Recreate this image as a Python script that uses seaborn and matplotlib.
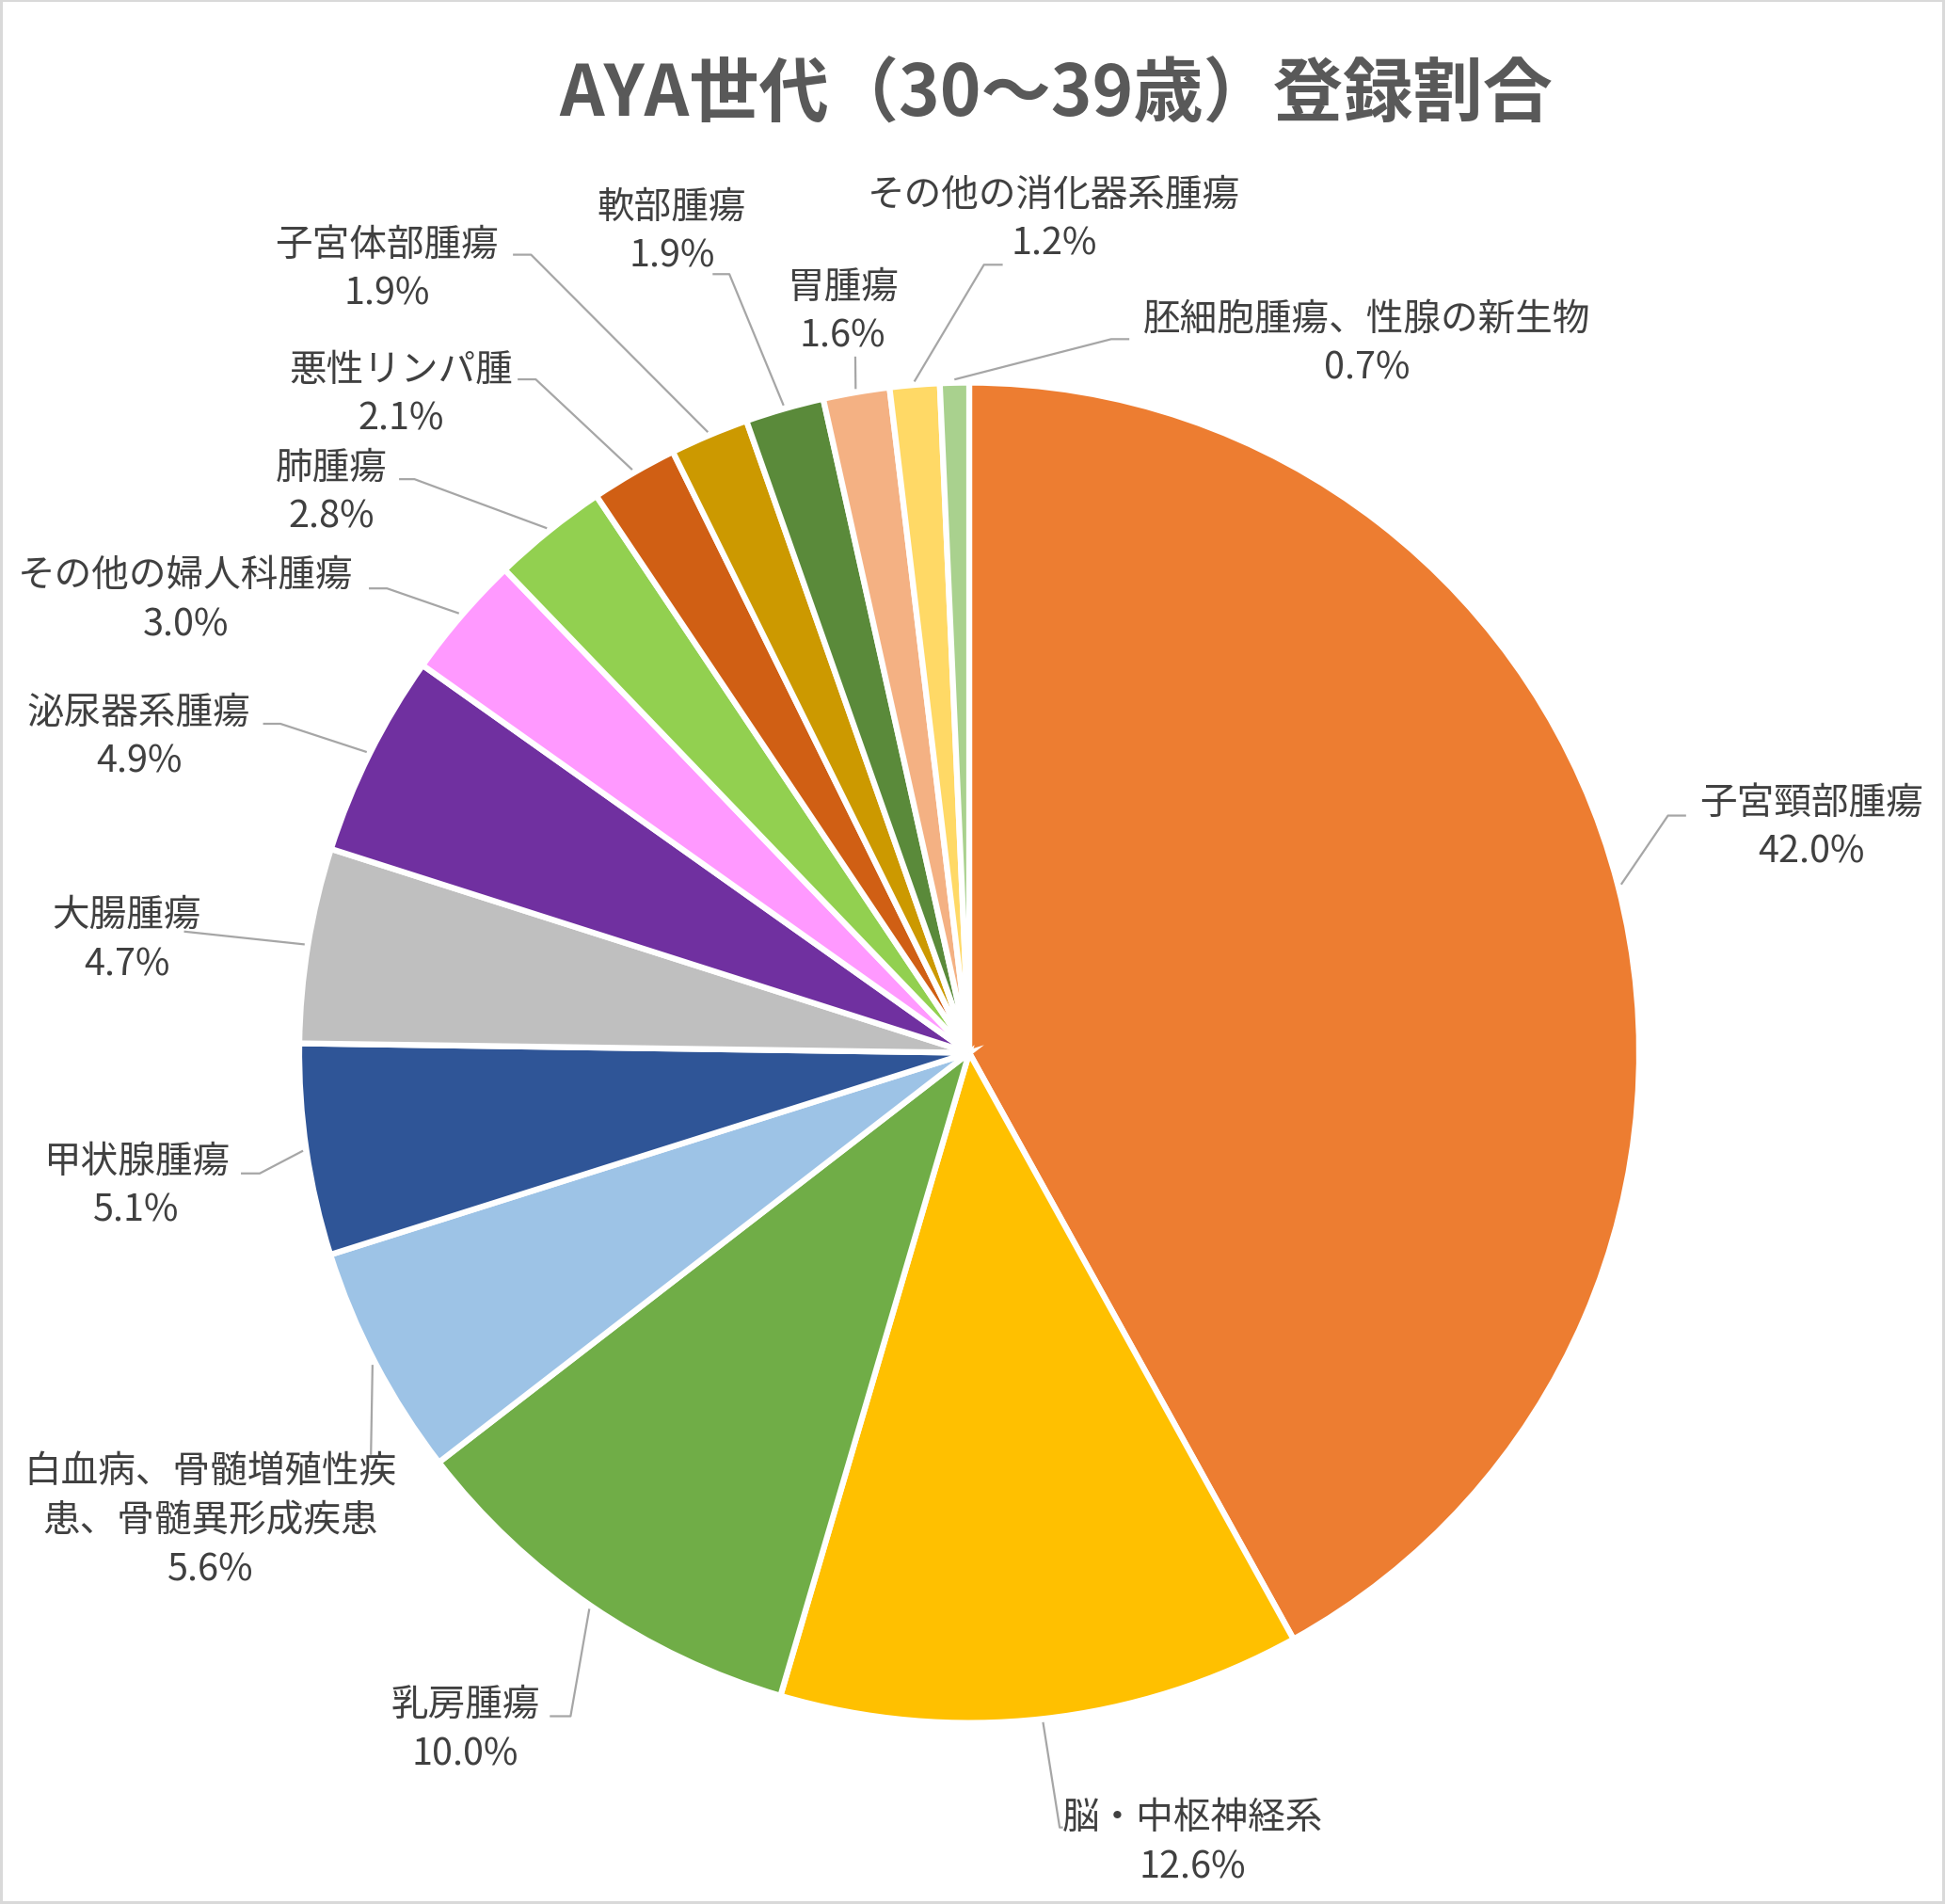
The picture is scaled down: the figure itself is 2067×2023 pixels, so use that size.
import numpy as np
import seaborn as sns
import matplotlib.pyplot as plt

sns.set_theme(style="white")
plt.rcParams['font.family'] = ['Noto Sans CJK JP', 'DejaVu Sans']

# 部位別の登録割合 (%)
categories = ['子宮頸部腫瘍', '脳・中枢神経系', '乳房腫瘍',
              '白血病、骨髄増殖性疾\n患、骨髄異形成疾患', '甲状腺腫瘍', '大腸腫瘍',
              '泌尿器系腫瘍', 'その他の婦人科腫瘍', '肺腫瘍', '悪性リンパ腫',
              '子宮体部腫瘍', '軟部腫瘍', '胃腫瘍', 'その他の消化器系腫瘍',
              '胚細胞腫瘍、性腺の新生物']
shares = [42.0, 12.6, 10.0, 5.6, 5.1, 4.7, 4.9, 3.0, 2.8, 2.1, 1.9, 1.9, 1.6, 1.2, 0.7]
colors = ['#ED7D31', '#FFC000', '#70AD47', '#9DC3E6', '#2F5597', '#BFBFBF',
          '#7030A0', '#FF99FF', '#92D050', '#D05F14', '#CC9900', '#5A8A3A',
          '#F4B183', '#FFD966', '#A9D18E']

# ラベル位置 (円の半径=1 の座標)
label_xy = [(1.257, 0.337), (0.333, -1.178), (-0.752, -1.009), (-1.133, -0.698),
            (-1.243, -0.198), (-1.257, 0.169), (-1.239, 0.472), (-1.169, 0.676),
            (-0.952, 0.837), (-0.848, 0.983), (-0.869, 1.170), (-0.444, 1.226),
            (-0.189, 1.107), (0.126, 1.244), (0.594, 1.059)]
# 引き出し線の折れ点と終点
elbow_xy = [(1.043, 0.354), (0.135, -1.156), (-0.595, -0.990), (-0.893, -0.600),
            (-1.059, -0.180), (-1.172, 0.181), (-1.028, 0.491), (-0.869, 0.693),
            (-0.828, 0.856), (-0.647, 1.005), (-0.654, 1.191), (-0.358, 1.162),
            (-0.170, 1.039), (0.022, 1.176), (0.212, 1.065)]
end_xy = [(1.070, 0.354), (0.140, -1.156), (-0.626, -0.990), (-0.893, -0.600),
          (-1.087, -0.180), (-1.172, 0.181), (-1.054, 0.491), (-0.896, 0.693),
          (-0.851, 0.856), (-0.674, 1.005), (-0.681, 1.191), (-0.383, 1.162),
          (-0.170, 1.039), (0.050, 1.176), (0.239, 1.065)]

W, H = 2067, 2024
cx, cy, r = 1030, 1119.6, 712

fig = plt.figure(figsize=(W / 100, H / 100), dpi=100, facecolor='white',
                 edgecolor='#D9D9D9', linewidth=3)
ax = fig.add_axes([0, 0, 1, 1])

wedges, _ = ax.pie(shares, colors=colors, startangle=90, counterclock=False,
                   radius=1, wedgeprops=dict(edgecolor='white', linewidth=4.5))
ax.set_xlim(-cx / r, (W - cx) / r)
ax.set_ylim(-(H - cy) / r, cy / r)
ax.set_aspect('auto')
ax.axis('off')

text_color = '#404040'
line_step = 52 / r
for w, name, v, (tx, ty), (ex, ey), (fx, fy) in zip(wedges, categories, shares,
                                                    label_xy, elbow_xy, end_xy):
    mid = np.deg2rad((w.theta1 + w.theta2) / 2)
    sx, sy = 1.005 * np.cos(mid), 1.005 * np.sin(mid)
    ax.plot([sx, ex, fx], [sy, ey, fy], color='#A6A6A6', lw=1.6,
            solid_capstyle='butt', zorder=1)
    lines = name.split('\n') + [f'{v:.1f}%']
    n = len(lines)
    for i, s in enumerate(lines):
        y = ty + ((n - 1) / 2 - i) * line_step
        ax.text(tx, y, s, ha='center', va='center', fontsize=28.5,
                color=text_color)

fig.text(1122 / W, 1 - 102 / H, 'AYA世代（30～39歳）登録割合', ha='center',
         va='center', fontsize=53.5, fontweight='bold', color='#595959')

fig.savefig('out.png', dpi=100)
